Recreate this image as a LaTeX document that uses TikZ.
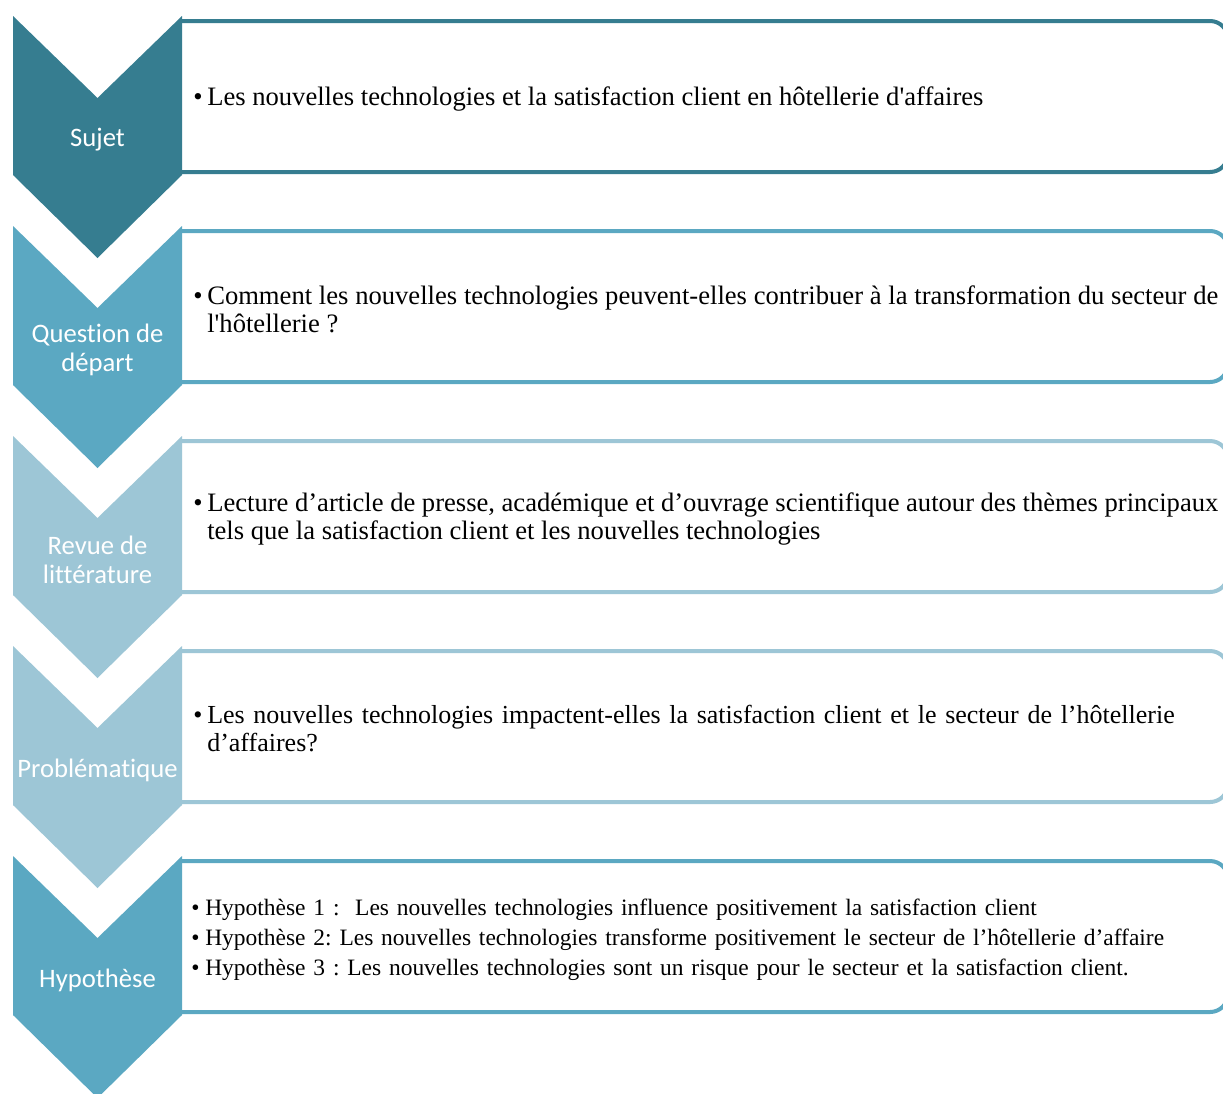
\documentclass[tikz,border=0pt]{standalone}
\usepackage{fontspec}
\setmainfont{Liberation Serif}[Ligatures=TeXOff]
\newfontfamily\chevfont{Carlito}[Ligatures=NoCommon]
\definecolor{cA}{RGB}{54,125,144}
\definecolor{cB}{RGB}{91,168,194}
\definecolor{cC}{RGB}{157,198,214}
\newcommand\bitem[1]{\hangindent=10.5pt\hangafter=1\noindent\makebox[10.5pt][l]{•}#1\par}
\tikzset{
  chev/.style={draw=none},
  boxline/.style={line width=3pt, rounded corners=13.5pt},
  chevlabel/.style={text=white, align=center, inner sep=0pt, font=\chevfont\fontsize{20}{21.75}\selectfont},
  boxtext/.style={anchor=west, inner sep=0pt, text width=768.75pt, align=justify, font=\frenchspacing\fontsize{19.95}{21}\selectfont},
  hyptext/.style={anchor=west, inner sep=0pt, text width=768.75pt, align=left, font=\frenchspacing\fontsize{17.6}{22.5}\selectfont}
}
\newcommand\stage[4]{% #1 top y, #2 colour, #3 name, #4 label
  \draw[boxline, draw=#2] (182,#1+5) -- (1228,#1+5) -- (1228,#1+156) -- (182,#1+156);
  \fill[#2] (13,#1) -- (97.5,#1+82) -- (182,#1) -- (182,#1+159) -- (97.5,#1+242) -- (13,#1+159) -- cycle;
  \node[chevlabel] (#3) at (97.5,#1+124) {#4};
}
\begin{document}
\begin{tikzpicture}[x=0.75pt,y=-0.75pt]
\useasboundingbox (0,0) rectangle (1223,1093);
\clip (0,0) rectangle (1223,1093);
\fill[white] (0,0) rectangle (1223,1093);
\stage{16}{cA}{l1}{Sujet}
\stage{226}{cB}{l2}{Question de\\départ}
\stage{436}{cC}{l3}{Revue de\\littérature}
\stage{646}{cC}{l4}{Problématique}
\stage{856}{cB}{l5}{Hypothèse}
\node[boxtext] (t1) at (193,99) {\bitem{Les nouvelles technologies et la satisfaction client en hôtellerie d'affaires}};
\node[boxtext] (t2) at (193,309) {\bitem{Comment les nouvelles technologies peuvent-elles contribuer à la transformation du secteur de\linebreak l'hôtellerie ?}};
\node[boxtext] (t3) at (193,519) {\bitem{Lecture d’article de presse, académique et d’ouvrage scientifique autour des thèmes principaux\linebreak tels que la satisfaction client et les nouvelles technologies}};
\node[boxtext, align=left, font=\frenchspacing\fontsize{19.5}{21}\selectfont] (t4) at (193,729) {\bitem{Les nouvelles technologies impactent-elles la satisfaction client et le secteur de l’hôtellerie\newline d’affaires?}};
\node[hyptext] (t5) at (191,940) {\bitem{Hypothèse 1 :\ \ Les nouvelles technologies influence positivement la satisfaction client}\bitem{Hypothèse 2: Les nouvelles technologies transforme positivement le secteur de l’hôtellerie d’affaire}\bitem{Hypothèse 3 : Les nouvelles technologies sont un risque pour le secteur et la satisfaction client.}};
\end{tikzpicture}
\end{document}
